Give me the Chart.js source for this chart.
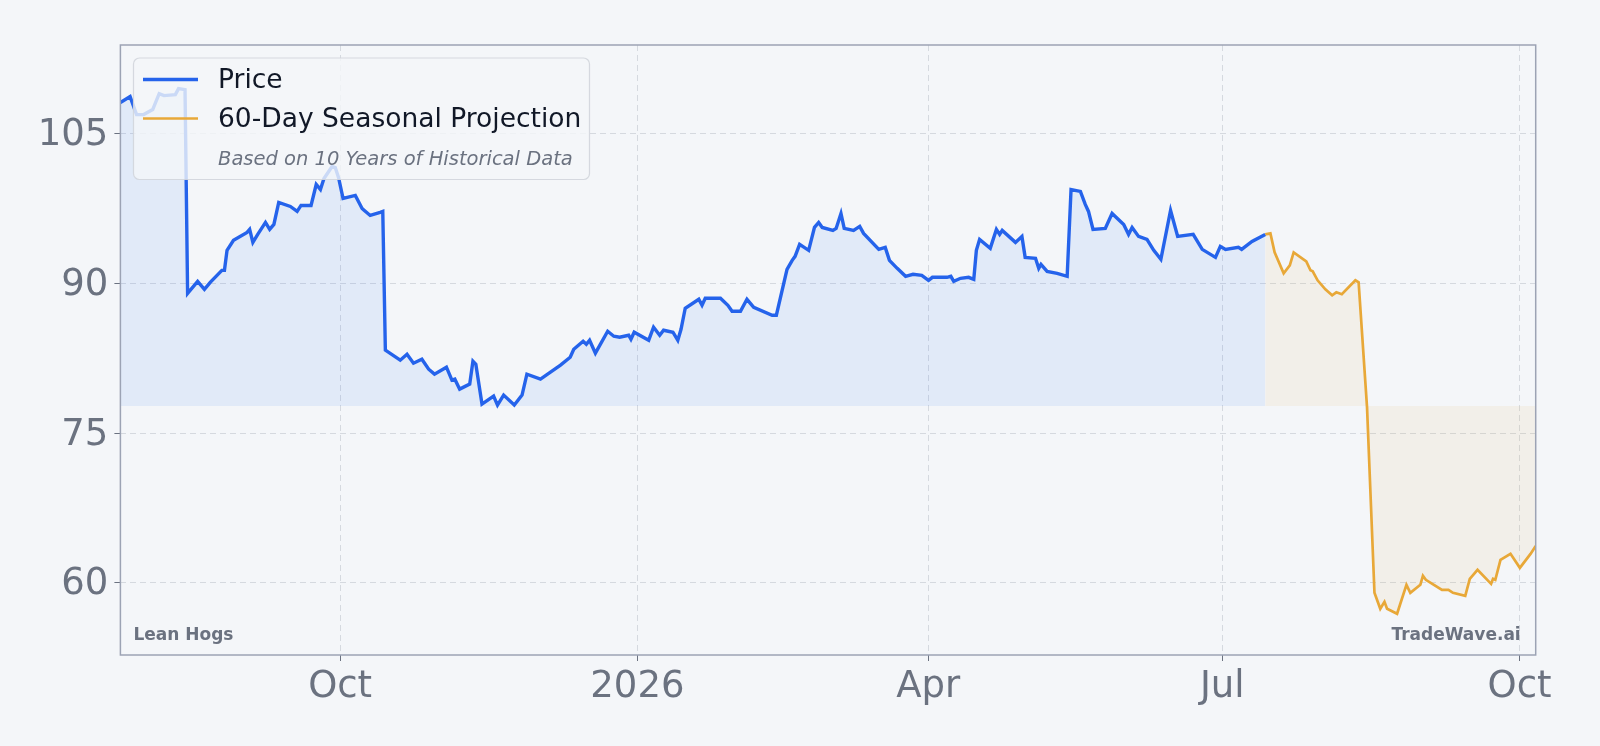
<!DOCTYPE html>
<html>
<head>
<meta charset="utf-8">
<title>Lean Hogs - Seasonal Projection</title>
<script src="https://cdn.jsdelivr.net/npm/chart.js@4/dist/chart.umd.min.js"></script>
<style>
  html, body { margin: 0; padding: 0; background: #f4f6f9; }
  .chart-container { position: relative; width: 1600px; height: 746px; }
</style>
</head>
<body>
<div class="chart-container">
  <canvas id="chart" width="1600" height="746"></canvas>
</div>
<script>
// x values are days counted from 2025-10-01
const priceDays = [
  -68, -65, -63, -60.8, -58, -56, -54.5, -51, -50, -48,
  -47.2, -44.1, -42, -40.2, -36.6, -35.8, -35, -33, -28.8, -28,
  -27, -25.5, -23.1, -21.8, -20.5, -19, -15.4, -13.3, -12.1, -9,
  -7.4, -6.1, -5, -2.5, -1.5, -0.5, 0.9, 4.7, 6.8, 7.5,
  9.3, 12.4, 13.2, 14, 18.6, 20.7, 22.7, 25.3, 27.4, 29.2,
  32.9, 34.6, 35.5, 37, 40.1, 41.1, 42, 43.9, 47.5, 48.7,
  50.6, 53.9, 56.3, 57.8, 62, 65.1, 68.2, 71.2, 72.3, 75.2,
  76.2, 77.2, 79, 82.8, 84.7, 86.5, 89.3, 90, 91, 95.5,
  97, 98.9, 100.1, 103, 104.5, 105.5, 106.8, 111, 112, 113,
  117.7, 120, 121.3, 123.9, 125.9, 128, 133.7, 135, 138.3, 139.9,
  140.8, 142.2, 145, 146.8, 148.1, 149.2, 152.5, 153.5, 155, 156,
  158.9, 160.8, 162, 166.7, 168.7, 170, 172.4, 175, 177.3, 180,
  182.1, 183.3, 187.8, 189, 189.9, 192, 194.5, 196.1, 196.9, 197.9,
  201.2, 203.1, 204.1, 204.9, 209, 211, 212, 215.2, 216.2, 216.9,
  218.8, 221.9, 225, 226.2, 229.1, 230.6, 231.6, 233, 236.8, 238.9,
  242.5, 244, 245.1, 247.1, 249.7, 251.8, 254, 257, 259.2, 264,
  266.8, 270.9, 272.4, 274, 278, 279, 282.2, 286.3
];
const priceValues = [
  108.1, 108.7, 106.9, 106.9, 107.4, 109.0, 108.8, 108.9, 109.5, 109.4,
  89.0, 90.2, 89.4, 90.1, 91.3, 91.3, 93.3, 94.3, 95.1, 95.4,
  94.1, 94.9, 96.1, 95.4, 95.9, 98.1, 97.7, 97.2, 97.8, 97.8,
  99.9, 99.4, 100.5, 101.7, 101.6, 100.6, 98.5, 98.8, 97.5, 97.3,
  96.8, 97.1, 97.2, 83.3, 82.3, 82.9, 82.0, 82.4, 81.4, 80.9,
  81.6, 80.3, 80.4, 79.4, 79.9, 82.2, 81.9, 77.9, 78.7, 77.8,
  78.8, 77.8, 78.8, 80.9, 80.4, 81.1, 81.8, 82.6, 83.4, 84.2,
  83.9, 84.3, 83.0, 85.2, 84.7, 84.6, 84.8, 84.4, 85.1, 84.3,
  85.6, 84.8, 85.3, 85.1, 84.3, 85.4, 87.5, 88.4, 87.8, 88.5,
  88.5, 87.8, 87.2, 87.2, 88.4, 87.6, 86.8, 86.8, 91.4, 92.3,
  92.7, 93.9, 93.3, 95.6, 96.1, 95.6, 95.3, 95.5, 97.0, 95.5,
  95.3, 95.7, 95.0, 93.4, 93.6, 92.3, 91.5, 90.7, 90.9, 90.8,
  90.3, 90.6, 90.6, 90.7, 90.2, 90.5, 90.6, 90.4, 93.3, 94.4,
  93.5, 95.4, 94.9, 95.3, 94.1, 94.7, 92.6, 92.5, 91.5, 91.9,
  91.2, 91.0, 90.7, 99.4, 99.2, 97.9, 97.2, 95.4, 95.5, 97.0,
  95.9, 94.9, 95.6, 94.7, 94.4, 93.3, 92.4, 97.3, 94.7, 94.9,
  93.4, 92.6, 93.7, 93.4, 93.6, 93.4, 94.2, 94.9
];
const projDays = [
  286.3, 287.9, 289.2, 292, 293.9, 295.1, 299, 300.3, 301, 302.5,
  304.9, 307, 308.3, 310, 314.2, 315.2, 317.8, 320.1, 321.9, 323.2,
  324, 327.1, 328, 330, 331.2, 334.3, 335.1, 336, 338, 341,
  343, 344.4, 348.2, 349.6, 352, 356.2, 356.8, 357.5, 359.1, 362.2,
  365.1, 368.4, 370
];
const projValues = [
  94.9, 95.0, 93.1, 91.0, 91.8, 93.1, 92.2, 91.3, 91.2, 90.3,
  89.4, 88.8, 89.1, 88.9, 90.3, 90.1, 77.6, 59.0, 57.4, 58.1,
  57.4, 56.9, 57.8, 59.8, 59.0, 59.8, 60.7, 60.3, 59.9, 59.3,
  59.3, 59.0, 58.7, 60.4, 61.3, 59.9, 60.4, 60.3, 62.3, 62.9,
  61.5, 62.9, 63.7
];
const xTickDays = [0, 92, 182, 273, 365];
const xTickLabels = ['Oct', '2026', 'Apr', 'Jul', 'Oct'];
const yTicks = [60, 75, 90, 105];
const fillBase = 77.7;

const FONT = "'DejaVu Sans', 'Noto Sans', sans-serif";
const GRID = 'rgba(156, 163, 175, 0.35)';
const TEXT_GREY = '#6b7280';

// page background + frame around the plot
const framePlugin = {
  id: 'frame',
  beforeDraw(chart) {
    const c = chart.ctx;
    c.save();
    c.fillStyle = '#f4f6f9';
    c.fillRect(0, 0, chart.width, chart.height);
    c.restore();
  },
  afterDraw(chart) {
    const c = chart.ctx;
    const a = chart.chartArea;
    c.save();
    c.strokeStyle = '#9ca3b4';
    c.lineWidth = 1.5;
    c.strokeRect(a.left, a.top, a.right - a.left, a.bottom - a.top);

    // watermark texts
    c.fillStyle = TEXT_GREY;
    c.font = 'bold 17px ' + FONT;
    c.textBaseline = 'middle';
    c.textAlign = 'left';
    c.fillText('Lean Hogs', a.left + 13, 635.5);
    c.textAlign = 'right';
    c.fillText('TradeWave.ai', a.right - 15, 635.5);

    // legend box
    const lx = 133.5, ly = 58, lw = 456, lh = 121.5;
    c.beginPath();
    c.roundRect(lx, ly, lw, lh, 6);
    c.fillStyle = 'rgba(244, 246, 249, 0.8)';
    c.fill();
    c.strokeStyle = 'rgba(209, 213, 219, 0.9)';
    c.lineWidth = 1.2;
    c.stroke();

    c.lineCap = 'butt';
    c.strokeStyle = '#2563eb';
    c.lineWidth = 3.4;
    c.beginPath(); c.moveTo(143, 79.5); c.lineTo(198, 79.5); c.stroke();
    c.strokeStyle = '#e8a838';
    c.lineWidth = 2.7;
    c.beginPath(); c.moveTo(143, 118.5); c.lineTo(198, 118.5); c.stroke();

    c.fillStyle = '#111827';
    c.textAlign = 'left';
    c.font = '26.5px ' + FONT;
    c.fillText('Price', 218, 81);
    c.fillText('60-Day Seasonal Projection', 218, 120);
    c.fillStyle = TEXT_GREY;
    c.font = 'italic 19.5px ' + FONT;
    c.fillText('Based on 10 Years of Historical Data', 218, 159.5);
    c.restore();
  }
};

const ctx = document.getElementById('chart').getContext('2d');
const chart = new Chart(ctx, {
  type: 'line',
  data: {
    datasets: [
      {
        label: 'Price',
        data: priceDays.map((d, i) => ({ x: d, y: priceValues[i] })),
        borderColor: '#2563eb',
        backgroundColor: 'rgba(59, 130, 246, 0.10)',
        borderWidth: 3.4,
        pointRadius: 0,
        tension: 0,
        fill: { value: fillBase }
      },
      {
        label: '60-Day Seasonal Projection',
        data: projDays.map((d, i) => ({ x: d, y: projValues[i] })),
        borderColor: '#e8a838',
        backgroundColor: 'rgba(232, 168, 56, 0.08)',
        borderWidth: 2.7,
        pointRadius: 0,
        tension: 0,
        fill: { value: fillBase }
      }
    ]
  },
  options: {
    responsive: false,
    devicePixelRatio: 1,
    animation: false,
    layout: { padding: { top: 45, right: 64.3, bottom: 0, left: 0 } },
    plugins: {
      legend: { display: false },
      tooltip: { enabled: false }
    },
    scales: {
      x: {
        type: 'linear',
        min: -68,
        max: 370,
        afterBuildTicks: (scale) => { scale.ticks = xTickDays.map(v => ({ value: v })); },
        afterFit: (scale) => { scale.height = 91; },
        ticks: {
          autoSkip: false,
          maxRotation: 0,
          padding: 4,
          color: TEXT_GREY,
          font: { family: FONT, size: 37 },
          callback: (v) => xTickLabels[xTickDays.indexOf(v)]
        },
        grid: {
          color: GRID,
          lineWidth: 1,
          drawTicks: true,
          tickLength: 6,
          tickColor: '#6b7280',
          tickBorderDash: []
        },
        border: { display: false, dash: [6, 4] }
      },
      y: {
        min: 52.77,
        max: 113.87,
        afterBuildTicks: (scale) => { scale.ticks = yTicks.map(v => ({ value: v })); },
        afterFit: (scale) => { scale.width = 120.4; },
        ticks: {
          padding: 6,
          labelOffset: 2,
          color: TEXT_GREY,
          font: { family: FONT, size: 37 }
        },
        grid: {
          color: GRID,
          lineWidth: 1,
          drawTicks: true,
          tickLength: 6,
          tickColor: '#6b7280',
          tickBorderDash: []
        },
        border: { display: false, dash: [6, 4] }
      }
    }
  },
  plugins: [framePlugin]
});
</script>
</body>
</html>
